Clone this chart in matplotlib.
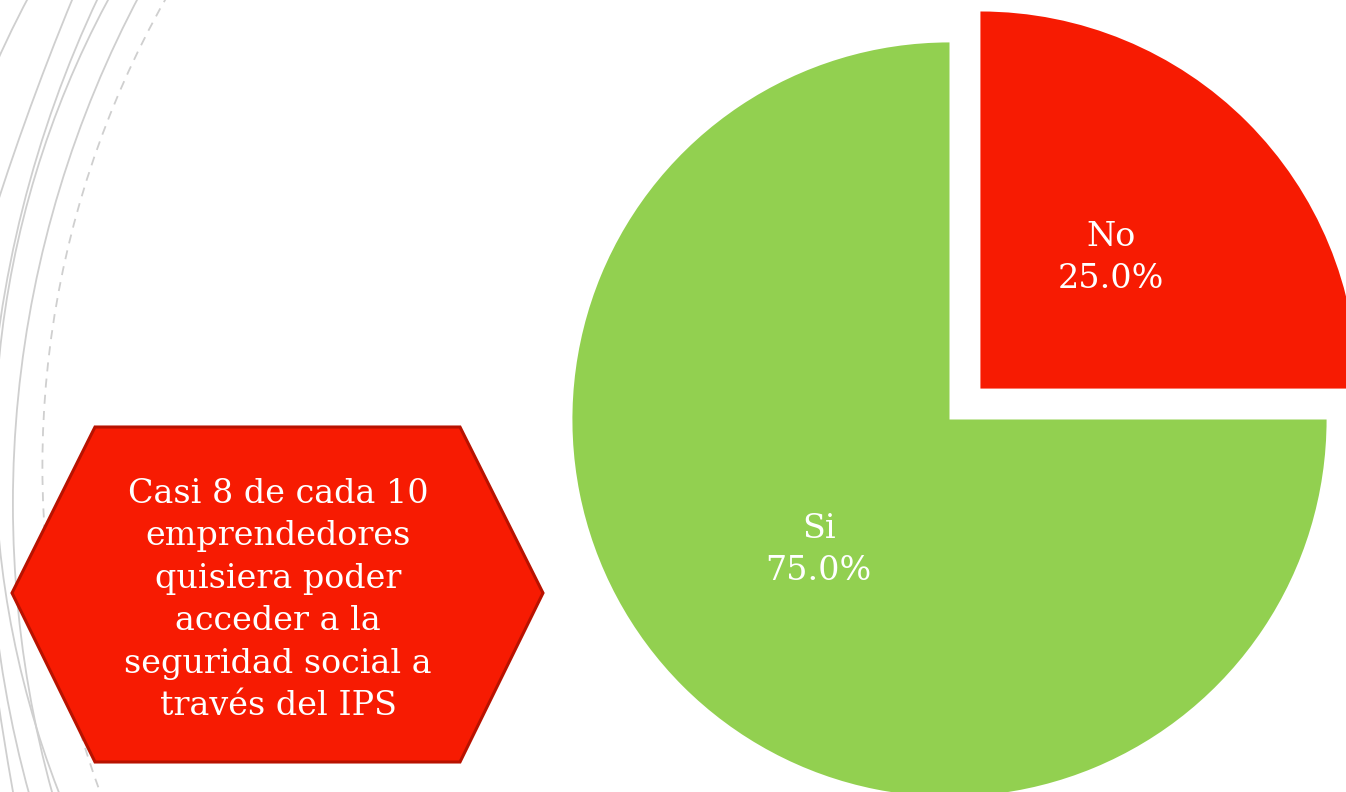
import numpy as np
from matplotlib import pyplot as plt
from matplotlib.patches import Polygon, Circle

labels = ['Si', 'No']
values = [75.0, 25.0]
colors = ['#92D050', '#F71B02']
explode = [0, 0.116]

note = ("Casi 8 de cada 10\nemprendedores\nquisiera poder\n"
        "acceder a la\nseguridad social a\ntravés del IPS")

# decorative arcs on the left, each one given by 3 points (pixels, y down)
arcs = [
    [(27, 0), (0, 55), (-95, 480)],
    [(72, 0), (33, 100), (0, 195)],
    [(97, 0), (47, 125), (13, 250)],
    [(108, 0), (52, 125), (16, 250)],
    [(137, 0), (43, 250), (13, 490)],
    [(13, 792), (-2, 700), (-20, 560)],
]
dashed_arc = [(165, 0), (43, 500), (100, 792)]


def circle_from(p1, p2, p3):
    (x1, y1), (x2, y2), (x3, y3) = p1, p2, p3
    d = 2 * (x1 * (y2 - y3) + x2 * (y3 - y1) + x3 * (y1 - y2))
    ux = ((x1**2 + y1**2) * (y2 - y3) + (x2**2 + y2**2) * (y3 - y1) + (x3**2 + y3**2) * (y1 - y2)) / d
    uy = ((x1**2 + y1**2) * (x3 - x2) + (x2**2 + y2**2) * (x1 - x3) + (x3**2 + y3**2) * (x2 - x1)) / d
    r = np.hypot(x1 - ux, y1 - uy)
    return (ux, uy), r


fig = plt.figure(figsize=(13.46, 7.92), dpi=100)
fig.patch.set_facecolor('white')

bg = fig.add_axes([0, 0, 1, 1])
bg.set_xlim(0, 1346)
bg.set_ylim(792, 0)
bg.axis('off')

for pts in arcs:
    c, r = circle_from(*pts)
    bg.add_patch(Circle(c, r, fill=False, ec='#CFCFCF', lw=1.3))
c, r = circle_from(*dashed_arc)
bg.add_patch(Circle(c, r, fill=False, ec='#CFCFCF', lw=1.3, ls=(0, (5, 4))))

hexagon = [(12, 593), (95, 427), (460, 427), (543, 593), (460, 762), (95, 762)]
bg.add_patch(Polygon(hexagon, closed=True, fc='#F71B02', ec='#B81200', lw=2.2, zorder=3))
bg.text(278, 600, note, ha='center', va='center', color='white',
        fontsize=24, family='DejaVu Serif', linespacing=1.42, zorder=4)

# pie
ax = fig.add_axes([497 / 1346, -80 / 792, 905 / 1346, 905 / 792])
wedges, texts = ax.pie(values, labels=[f"{l}\n{v:.1f}%" for l, v in zip(labels, values)],
                       colors=colors, explode=explode, startangle=90,
                       labeldistance=0.49,
                       textprops=dict(color='white', fontsize=24, family='DejaVu Serif'))
for t in texts:
    t.set_ha('center')
    t.set_va('center')
    t.set_linespacing(1.4)
ax.set_xlim(-1.2, 1.2)
ax.set_ylim(-1.2, 1.2)
ax.set_aspect('equal')

plt.savefig('out.png', dpi=100)
